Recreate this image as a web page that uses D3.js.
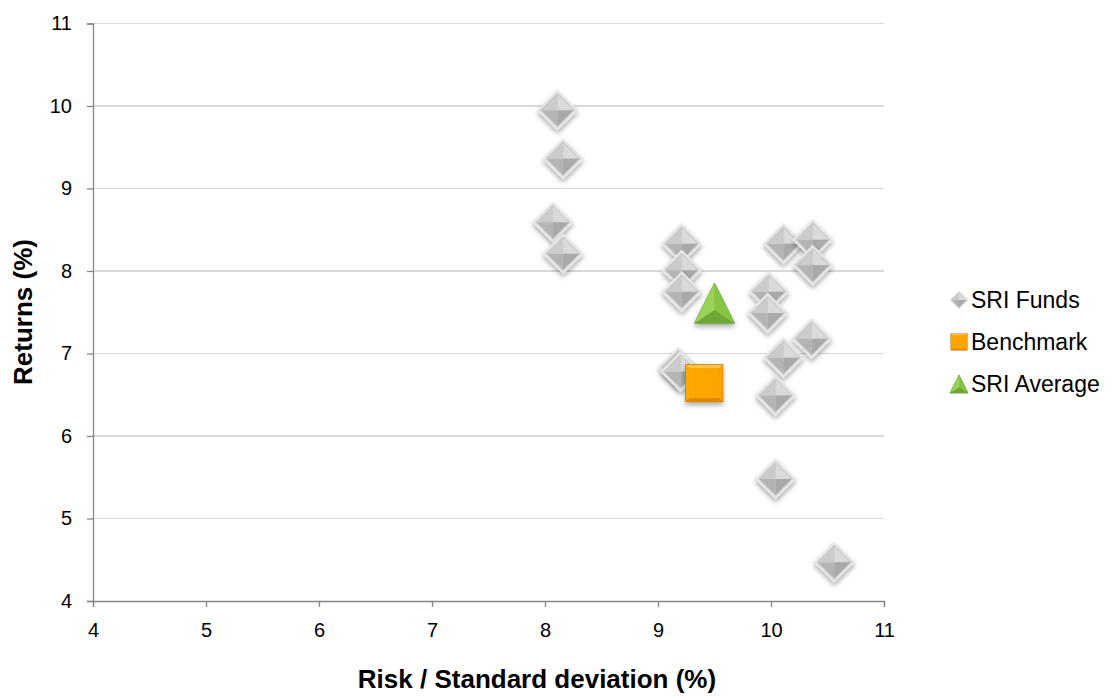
<!DOCTYPE html>
<html>
<head>
<meta charset="utf-8">
<script src="https://cdn.jsdelivr.net/npm/d3@7"></script>
<style>
  html, body { margin: 0; padding: 0; background: #fff; }
  svg { display: block; font-family: "Liberation Sans", Arial, sans-serif; }
</style>
</head>
<body>
<svg id="chart" width="1112" height="696"></svg>
<script>
// SRI fund risk/return figures (%)
const fundRisk    = [8.11, 8.16, 8.07, 8.16, 9.21, 9.21, 9.21, 9.18, 9.20, 10.11, 10.37, 10.37, 9.98, 9.97, 10.36, 10.11, 10.04, 10.04, 10.56];
const fundReturn  = [9.95, 9.36, 8.59, 8.21, 8.33, 8.01, 7.75, 6.83, 6.78, 8.33, 8.38, 8.07, 7.75, 7.49, 7.18, 6.95, 6.49, 5.48, 4.47];
const benchmarkRisk = [9.41];
const benchmarkReturn = [6.64];
const averageRisk = [9.50];
const averageReturn = [7.61];
const xTicks = [4, 5, 6, 7, 8, 9, 10, 11];
const yTicks = [4, 5, 6, 7, 8, 9, 10, 11];
const legendLabels = ["SRI Funds", "Benchmark", "SRI Average"];

const svg = d3.select("#chart");
const x = d3.scaleLinear().domain([4, 11]).range([93, 884]);
const y = d3.scaleLinear().domain([4, 11]).range([601, 23.5]);

const defs = svg.append("defs");
const sh = defs.append("filter").attr("id", "shadow")
  .attr("x", "-50%").attr("y", "-50%").attr("width", "200%").attr("height", "200%");
sh.append("feDropShadow").attr("dx", 0).attr("dy", 3).attr("stdDeviation", 2.4)
  .attr("flood-color", "#000").attr("flood-opacity", 0.33);

// horizontal gridlines
svg.append("g").selectAll("line").data(yTicks.filter(d => d > 4)).join("line")
  .attr("x1", x(4)).attr("x2", x(11))
  .attr("y1", d => y(d)).attr("y2", d => y(d))
  .attr("stroke", "#d9d9d9").attr("stroke-width", 1.2).attr("shape-rendering", "crispEdges");

// axes
const xAxis = svg.append("g").attr("transform", `translate(0,${y(4)})`)
  .call(d3.axisBottom(x).tickValues(xTicks).tickSize(6).tickPadding(16).tickFormat(d3.format("d")));
const yAxis = svg.append("g").attr("transform", `translate(${x(4)},0)`)
  .call(d3.axisLeft(y).tickValues(yTicks).tickSize(6).tickPadding(15).tickFormat(d3.format("d")));
[xAxis, yAxis].forEach(a => {
  a.select(".domain").attr("stroke", "#868686").attr("stroke-width", 1.3);
  a.selectAll(".tick line").attr("stroke", "#868686").attr("stroke-width", 1.3);
  a.selectAll("text").attr("font-size", 20).attr("fill", "#000")
    .attr("font-family", "'Liberation Sans', Arial, sans-serif");
});

// axis titles
svg.append("text").attr("x", 537).attr("y", 688).attr("text-anchor", "middle")
  .attr("font-size", 26).attr("font-weight", "bold").text("Risk / Standard deviation (%)");
svg.append("text").attr("transform", "translate(32,312) rotate(-90)").attr("text-anchor", "middle")
  .attr("font-size", 26).attr("font-weight", "bold").text("Returns (%)");

// beveled marker drawers (r = half-width)
function diamond(g, r) {
  const o = r, i = r * 0.84;
  g.append("path").attr("d", `M0,${-o}L${o},0L0,${o}L${-o},0Z`).attr("fill", "#c9c9c9").attr("stroke", "#9a9a9a").attr("stroke-width", 0.6);
  const faces = [
    [[0, -i], [i, 0], "#dadada"],
    [[i, 0], [0, i], "#a9a9a9"],
    [[0, i], [-i, 0], "#b4b4b4"],
    [[-i, 0], [0, -i], "#cbcbcb"]
  ];
  faces.forEach(([a, b, c]) => g.append("path")
    .attr("d", `M0,0L${a[0]},${a[1]}L${b[0]},${b[1]}Z`).attr("fill", c));
  g.append("path").attr("d", `M0,${-o}L${o},0L0,${o}L${-o},0Z`).attr("fill", "none").attr("stroke", "#e6e6e6").attr("stroke-width", r * 0.12);
}
function square(g, r) {
  const i = r * 0.8;
  g.append("rect").attr("x", -r).attr("y", -r).attr("width", 2 * r).attr("height", 2 * r).attr("fill", "#f39c00").attr("stroke", "#b86d00").attr("stroke-width", 1);
  const faces = [
    [`M${-r},${-r}L${r},${-r}L${i},${-i}L${-i},${-i}Z`, "#ffc24a"],
    [`M${r},${-r}L${r},${r}L${i},${i}L${i},${-i}Z`, "#f5a200"],
    [`M${-r},${r}L${r},${r}L${i},${i}L${-i},${i}Z`, "#e08800"],
    [`M${-r},${-r}L${-r},${r}L${-i},${i}L${-i},${-i}Z`, "#f7a900"]
  ];
  faces.forEach(([d, c]) => g.append("path").attr("d", d).attr("fill", c));
  g.append("path").attr("d", `M${-i},${-i}L${i},${-i}L${i},${i}L${-i},${i}Z`).attr("fill", "#ffa500");
}
function triangle(g, r) {
  const h = r * 1.0;
  const top = [0, -h], bl = [-r, h], br = [r, h];
  g.append("path").attr("d", `M${top}L${br}L${bl}Z`).attr("fill", "#8bc34a").attr("stroke", "#4f8a22").attr("stroke-width", 0.8);
  const c = [0, h * 0.35];
  g.append("path").attr("d", `M${top}L${c}L${bl}Z`).attr("fill", "#9bd35a");
  g.append("path").attr("d", `M${top}L${br}L${c}Z`).attr("fill", "#86c443");
  g.append("path").attr("d", `M${bl}L${c}L${br}Z`).attr("fill", "#6fa834");
}

// fund points
const funds = fundRisk.map((d, i) => ({ x: d, y: fundReturn[i] }));
svg.append("g").selectAll("g").data(funds).join("g")
  .attr("transform", d => `translate(${x(d.x)},${y(d.y)})`)
  .attr("filter", "url(#shadow)")
  .each(function () { diamond(d3.select(this), 19); });

// SRI average
svg.append("g").selectAll("g").data(averageRisk.map((d, i) => ({ x: d, y: averageReturn[i] }))).join("g")
  .attr("transform", d => `translate(${x(d.x)},${y(d.y)})`)
  .attr("filter", "url(#shadow)")
  .each(function () { triangle(d3.select(this), 20); });

// benchmark
svg.append("g").selectAll("g").data(benchmarkRisk.map((d, i) => ({ x: d, y: benchmarkReturn[i] }))).join("g")
  .attr("transform", d => `translate(${x(d.x)},${y(d.y)})`)
  .attr("filter", "url(#shadow)")
  .each(function () { square(d3.select(this), 18.5); });

// legend
const legend = svg.append("g");
const drawers = [diamond, square, triangle];
const sizes = [8.5, 8, 9];
legendLabels.forEach((lab, i) => {
  const ly = 300 + i * 42;
  const gi = legend.append("g").attr("transform", `translate(959,${ly})`);
  drawers[i](gi, sizes[i]);
  legend.append("text").attr("x", 971).attr("y", ly + 8).attr("font-size", 23).attr("fill", "#000").text(lab);
});
</script>
</body>
</html>
